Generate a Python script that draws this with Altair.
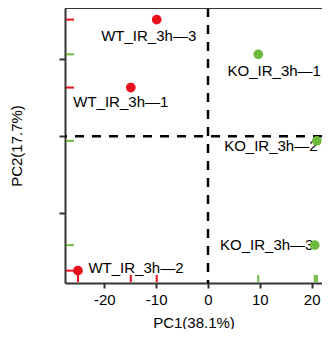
import altair as alt
import pandas as pd

samples = ["WT_IR_3h—3", "WT_IR_3h—1", "WT_IR_3h—2", "KO_IR_3h—1", "KO_IR_3h—2", "KO_IR_3h—3"]
groups = ["WT", "WT", "WT", "KO", "KO", "KO"]
pc1 = [-9.9, -14.9, -25.1, 9.7, 21.0, 20.6]
pc2 = [15.1, 6.3, -17.4, 10.6, -0.6, -14.1]

x_ticks = [-20, -10, 0, 10, 20]
y_ticks = [-10, 0, 10]

# label offsets (px) for each sample, in order
label_offsets = [(-8, 16), (-10, 14), (58, -3), (16, 17), (-46, 5), (-48, 0)]

df = pd.DataFrame({"sample": samples, "group": groups, "PC1": pc1, "PC2": pc2})

W, H = 257, 275
FONT = "Liberation Sans"
color = alt.Color("group:N", scale=alt.Scale(domain=["WT", "KO"], range=["#E8101B", "#6DB93B"]), legend=None)

xs = alt.Scale(domain=[-27.6, 22.0], nice=False, zero=False)
ys = alt.Scale(domain=[-19.0, 16.6], nice=False, zero=False)

base = alt.Chart(df)

points = base.mark_circle(size=95, opacity=1).encode(
    x=alt.X("PC1:Q", scale=xs, axis=alt.Axis(values=x_ticks, title="PC1(38.1%)", grid=False,
                                            labelExpr="replace(datum.label, '\u2212', '-')",
                                            labelFontSize=15, titleFontSize=15, labelFont=FONT, titleFont=FONT,
                                            labelColor="black", titleColor="black", titleFontWeight="normal",
                                            domainColor="#333333", domainWidth=2, tickColor="#333333",
                                            tickWidth=2, tickSize=5, labelPadding=4, titlePadding=8)),
    y=alt.Y("PC2:Q", scale=ys, axis=alt.Axis(values=y_ticks, title="PC2(17.7%)", grid=False, labels=False,
                                            titleFontSize=15, titleFont=FONT, titleColor="black",
                                            titleFontWeight="normal",
                                            domainColor="#333333", domainWidth=2, tickColor="#333333",
                                            tickWidth=2, tickSize=6, titlePadding=34)),
    color=color,
)

vline = alt.Chart(pd.DataFrame({"v": [0]})).mark_rule(color="black", strokeWidth=2.5, strokeDash=[9, 8]).encode(
    x=alt.X("v:Q", scale=xs))
hline = alt.Chart(pd.DataFrame({"v": [0]})).mark_rule(color="black", strokeWidth=2.5, strokeDash=[9, 8]).encode(
    y=alt.Y("v:Q", scale=ys))

top = alt.Chart(pd.DataFrame({"v": [0]})).mark_rule(color="#333333", strokeWidth=2).encode(
    x=alt.value(0), x2=alt.value(W), y=alt.value(0))

rug_y = base.mark_rule(strokeWidth=2).encode(
    y=alt.Y("PC2:Q", scale=ys), x=alt.value(1), x2=alt.value(9), color=color)
rug_x = base.mark_rule(strokeWidth=2).encode(
    x=alt.X("PC1:Q", scale=xs), y=alt.value(H - 8), y2=alt.value(H - 1), color=color)

labels = []
for s, (dx, dy) in zip(samples, label_offsets):
    labels.append(
        base.transform_filter(alt.datum.sample == s).mark_text(
            font=FONT, fontSize=15, color="black", dx=dx, dy=dy, align="center", baseline="middle"
        ).encode(x=alt.X("PC1:Q", scale=xs), y=alt.Y("PC2:Q", scale=ys), text="sample:N")
    )

chart = alt.layer(vline, hline, rug_y, rug_x, top, *labels, points).properties(
    width=W, height=H,
    autosize=alt.AutoSizeParams(type="none"),
    padding={"left": 57, "top": 0, "right": 0, "bottom": 46},
).configure_view(stroke=None).configure(background="white")

chart.save("out.html", embed_options={"renderer": "svg", "actions": False})
